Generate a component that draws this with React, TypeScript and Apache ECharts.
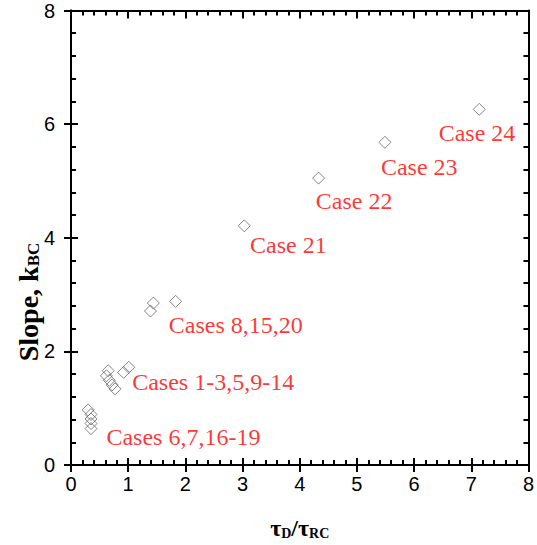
import React, { useEffect, useRef } from "react";
import * as echarts from "echarts";

const xValues = [7.14, 5.49, 4.33, 3.03, 1.44, 1.39, 1.83, 0.65, 0.92, 1.01, 0.62, 0.67, 0.72, 0.77, 0.3, 0.35, 0.35, 0.35, 0.35];
const yValues = [6.26, 5.68, 5.05, 4.21, 2.85, 2.71, 2.88, 1.66, 1.63, 1.72, 1.57, 1.49, 1.41, 1.34, 0.97, 0.89, 0.81, 0.73, 0.64];

const labelTexts = ["Case 24", "Case 23", "Case 22", "Case 21", "Cases 8,15,20", "Cases 1-3,5,9-14", "Cases 6,7,16-19"];
const labelX = [6.43, 5.42, 4.28, 3.13, 1.71, 1.07, 0.62];
const labelY = [5.85, 5.25, 4.64, 3.87, 2.47, 1.46, 0.5];

const xTicks = [0, 1, 2, 3, 4, 5, 6, 7, 8];
const yTicks = [0, 2, 4, 6, 8];

export default function App() {
  const ref = useRef<HTMLDivElement>(null);
  useEffect(() => {
    if (!ref.current) return;
    const chart = echarts.init(ref.current, null, { renderer: "svg" });
    const black = "#000";
    const lineW = 2;
    const baseX = {
      type: "value",
      min: xTicks[0],
      max: xTicks[xTicks.length - 1],
      interval: 1,
      splitLine: { show: false },
      axisLine: { show: true, onZero: false, lineStyle: { color: black, width: lineW } },
    };
    const baseY = {
      type: "value",
      min: yTicks[0],
      max: yTicks[yTicks.length - 1],
      interval: 2,
      splitLine: { show: false },
      axisLine: { show: true, onZero: false, lineStyle: { color: black, width: lineW } },
    };
    const option: any = {
      animation: false,
      grid: { left: 71, right: 8, top: 10.5, bottom: 76, containLabel: false },
      xAxis: [
        {
          ...baseX,
          position: "bottom",
          axisTick: { show: true, inside: true, length: 7, lineStyle: { color: black, width: lineW } },
          minorTick: { show: true, splitNumber: 5, length: 5, lineStyle: { color: black, width: lineW } },
          axisLabel: { show: true, margin: 9, color: black, fontSize: 20, fontFamily: "Liberation Sans" },
          name: "{a|τ}{b|D}{a|/τ}{b|RC}",
          nameLocation: "middle",
          nameGap: 51,
          nameTextStyle: {
            rich: {
              a: { fontFamily: "Liberation Serif", fontWeight: "bold", fontSize: 24, color: black, lineHeight: 24, verticalAlign: "bottom" },
              b: { fontFamily: "Liberation Serif", fontWeight: "bold", fontSize: 14, color: black, lineHeight: 6, verticalAlign: "bottom" },
            },
          },
        },
        {
          ...baseX,
          position: "bottom",
          axisTick: { show: true, inside: false, length: 7, lineStyle: { color: black, width: lineW } },
          axisLabel: { show: false },
        },
        {
          ...baseX,
          position: "top",
          axisTick: { show: true, inside: true, length: 8, lineStyle: { color: black, width: lineW } },
          minorTick: { show: true, splitNumber: 5, length: 5, lineStyle: { color: black, width: lineW } },
          axisLabel: { show: false },
        },
      ],
      yAxis: [
        {
          ...baseY,
          position: "left",
          axisTick: { show: true, inside: true, length: 7, lineStyle: { color: black, width: lineW } },
          minorTick: { show: true, splitNumber: 5, length: 5, lineStyle: { color: black, width: lineW } },
          axisLabel: { show: true, margin: 16, color: black, fontSize: 20, fontFamily: "Liberation Sans" },
        },
        {
          ...baseY,
          position: "left",
          axisTick: { show: true, inside: false, length: 7, lineStyle: { color: black, width: lineW } },
          axisLabel: { show: false },
        },
        {
          ...baseY,
          position: "right",
          axisTick: { show: true, inside: true, length: 5, lineStyle: { color: black, width: lineW } },
          minorTick: { show: true, splitNumber: 5, length: 5, lineStyle: { color: black, width: lineW } },
          axisLabel: { show: false },
        },
      ],
      graphic: [
        {
          type: "text",
          x: 28,
          y: 302,
          rotation: Math.PI / 2,
          style: {
            text: "{a|Slope, k}{b|BC}",
            align: "center",
            verticalAlign: "middle",
            rich: {
              a: { fontFamily: "Liberation Serif", fontWeight: "bold", fontSize: 28, fill: black, lineHeight: 28, verticalAlign: "bottom" },
              b: { fontFamily: "Liberation Serif", fontWeight: "bold", fontSize: 17, fill: black, lineHeight: 6, verticalAlign: "bottom" },
            },
          },
        },
      ],
      series: [
        {
          type: "scatter",
          xAxisIndex: 0,
          yAxisIndex: 0,
          symbol: "diamond",
          symbolSize: 12,
          itemStyle: { color: "rgba(255,255,255,0)", borderColor: "#666666", borderWidth: 1 },
          data: xValues.map((x, i) => [x, yValues[i]]),
          z: 3,
        },
        {
          type: "scatter",
          xAxisIndex: 0,
          yAxisIndex: 0,
          symbolSize: 0,
          data: labelX.map((x, i) => [x, labelY[i], labelTexts[i]]),
          label: {
            show: true,
            position: "inside",
            align: "left",
            verticalAlign: "middle",
            color: "#ff0000",
            fontFamily: "Liberation Serif",
            fontSize: 24,
            formatter: (p: any) => p.value[2],
          },
          z: 4,
        },
      ],
    };
    chart.setOption(option);
    return () => chart.dispose();
  }, []);
  return <div ref={ref} style={{ position: "absolute", left: 0, top: 0, width: 537, height: 545 }} />;
}
